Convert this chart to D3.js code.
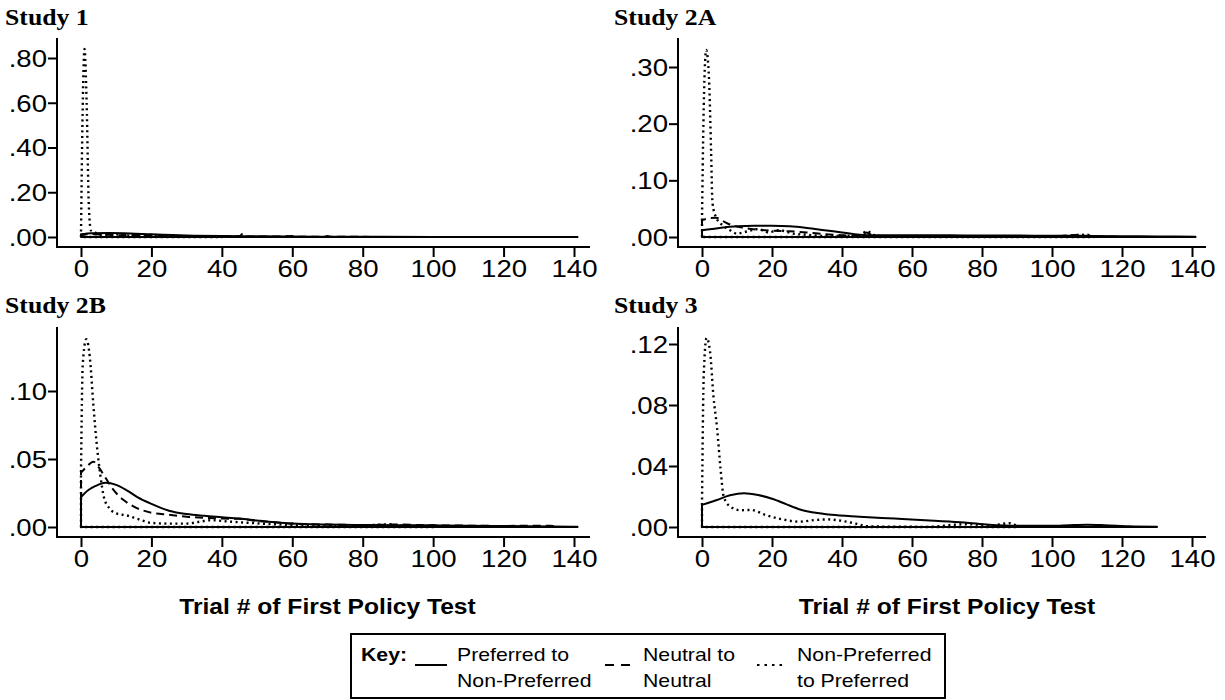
<!DOCTYPE html>
<html><head><meta charset="utf-8">
<script src="https://cdn.jsdelivr.net/npm/d3@7"></script>
<style>
html,body{margin:0;padding:0;background:#fff;}
svg{display:block;}
</style>
</head><body>
<svg id="chart" width="1225" height="700"></svg>
<script>
// ---------- DATA ----------
const panelTitles = ["Study 1", "Study 2A", "Study 2B", "Study 3"];
const xTicks = [0, 20, 40, 60, 80, 100, 120, 140];
const yTicks1 = [0, 0.2, 0.4, 0.6, 0.8];
const yTicks2A = [0, 0.1, 0.2, 0.3];
const yTicks2B = [0, 0.05, 0.10];
const yTicks3 = [0, 0.04, 0.08, 0.12];
const seriesNames = ["Preferred to Non-Preferred", "Neutral to Neutral", "Non-Preferred to Preferred"];
const xAxisTitle = "Trial # of First Policy Test";

// Study 1: [trial, density]
const study1Preferred = [[0,0.012],[3,0.017],[8,0.018],[14,0.016],[20,0.012],[26,0.009],[32,0.006],[40,0.004],[50,0.003],[60,0.002],[70,0.0015],[85,0.001],[100,0.0005],[120,0.0003],[141,0.0001]];
const study1Neutral = [[0,0.006],[2,0.012],[6,0.011],[10,0.008],[16,0.009],[20,0.007],[26,0.005],[32,0.004],[40,0.003],[45,0.003],[46,0.016],[47,0.003],[55,0.002],[61,0.004],[62,0.001],[69,0.001],[70,0.004],[71,0.001],[84,0.0005]];
const study1NonPref = [[0,0.01],[0.4,0.5],[1,0.84],[1.6,0.6],[2.2,0.15],[2.8,0.03],[4,0.02],[6,0.008],[10,0.012],[14,0.006],[18,0.01],[24,0.004],[30,0.002],[40,0.001]];

// Study 2A
const study2APreferred = [[0,0.012],[5,0.016],[10,0.019],[15,0.02],[20,0.02],[25,0.019],[30,0.016],[35,0.012],[40,0.008],[45,0.004],[50,0.003],[60,0.003],[70,0.003],[80,0.0025],[90,0.0025],[100,0.002],[110,0.002],[120,0.0015],[130,0.001],[141,0.0005]];
const study2ANeutral = [[0,0.03],[2,0.033],[4,0.034],[6,0.028],[8,0.022],[12,0.016],[16,0.013],[20,0.011],[25,0.01],[30,0.008],[35,0.005],[40,0.003],[45,0.002],[47,0.008],[49,0.002],[60,0.001],[80,0.001],[100,0.001],[108,0.004],[110,0.001],[120,0.0005]];
const study2ANonPref = [[0,0.03],[0.4,0.2],[1.2,0.33],[2,0.28],[2.6,0.15],[3,0.06],[4,0.035],[6,0.02],[8,0.012],[10,0.006],[13,0.01],[16,0.014],[19,0.008],[22,0.012],[26,0.006],[30,0.004],[35,0.002],[40,0.002],[45,0.003],[47,0.01],[50,0.002],[60,0.001],[80,0.001],[100,0.0005],[110,0.004],[112,0.0005]];

// Study 2B
const study2BPreferred = [[0,0.022],[2,0.027],[4,0.030],[7,0.0325],[10,0.031],[13,0.027],[16,0.022],[20,0.017],[25,0.012],[30,0.0095],[35,0.0082],[40,0.0072],[45,0.0062],[50,0.0048],[55,0.0035],[60,0.0025],[70,0.0018],[80,0.0015],[90,0.0013],[100,0.0012],[117,0.0008],[141,0.0002]];
const study2BNeutral = [[0,0.04],[1.5,0.044],[3.5,0.048],[5,0.044],[7,0.036],[9,0.028],[12,0.02],[15,0.015],[20,0.0105],[25,0.009],[30,0.0075],[35,0.0068],[40,0.0062],[45,0.006],[50,0.0045],[55,0.0035],[60,0.0025],[70,0.0018],[80,0.0015],[90,0.0018],[100,0.0012],[110,0.001],[120,0.0008],[133,0.001],[135,0.0003]];
const study2BNonPref = [[0,0.04],[0.5,0.12],[1.5,0.138],[2.5,0.125],[3.5,0.09],[4.5,0.06],[5.5,0.038],[6.5,0.022],[8,0.014],[10,0.01],[13,0.0085],[16,0.006],[20,0.003],[25,0.0025],[30,0.0025],[34,0.004],[37,0.005],[42,0.004],[48,0.003],[55,0.002],[60,0.0015],[70,0.001],[80,0.0012],[88,0.002],[90,0.001],[100,0.0005]];

// Study 3 (no neutral series)
const study3Preferred = [[0,0.0145],[4,0.0175],[8,0.0208],[12,0.0222],[16,0.021],[20,0.0185],[24,0.015],[28,0.0115],[32,0.0095],[37,0.008],[45,0.0068],[55,0.0055],[65,0.0042],[75,0.003],[82,0.0015],[90,0.0008],[100,0.0008],[105,0.0012],[110,0.0015],[115,0.0012],[122,0.0005],[130,0.0002]];
const study3NonPref = [[0,0.015],[0.5,0.1],[1.3,0.124],[2.3,0.115],[3.3,0.085],[4.3,0.065],[5.3,0.038],[6.2,0.02],[8,0.0135],[11,0.011],[14,0.0112],[18,0.008],[22,0.0055],[28,0.0035],[32,0.0045],[36,0.005],[40,0.004],[44,0.0022],[47,0.0005],[55,0.0002],[65,0.0001],[72,0.0015],[76,0.002],[82,0.001],[88,0.0025],[90,0.0005]];

// ---------- LAYOUT ----------
const SX = 1.2; // horizontal text stretch of the original
const SANS = "'Liberation Sans', Arial, sans-serif";
const SERIF = "'Liberation Serif', 'Times New Roman', serif";
const styles = [
  {dash: null, width: 2},
  {dash: "8,5", width: 2},
  {dash: "2,3.5", width: 2.4}
];

const panels = [
  {title: panelTitles[0], tx: 5, ty: 25, axX: 57, top: 38, base: 247, xr: [81, 574], xEnd: 590, yr: [237, 58], yd: [0, 0.8], ticks: yTicks1, series: [study1Preferred, study1Neutral, study1NonPref]},
  {title: panelTitles[1], tx: 614, ty: 25, axX: 678, top: 38, base: 247, xr: [702, 1192], xEnd: 1206, yr: [237, 67], yd: [0, 0.3], ticks: yTicks2A, series: [study2APreferred, study2ANeutral, study2ANonPref]},
  {title: panelTitles[2], tx: 5, ty: 313, axX: 57, top: 327, base: 537, xr: [81, 574], xEnd: 590, yr: [527, 391], yd: [0, 0.10], ticks: yTicks2B, series: [study2BPreferred, study2BNeutral, study2BNonPref], xTitle: true},
  {title: panelTitles[3], tx: 614, ty: 313, axX: 678, top: 327, base: 537, xr: [702, 1192], xEnd: 1206, yr: [527, 344], yd: [0, 0.12], ticks: yTicks3, series: [study3Preferred, null, study3NonPref], xTitle: true}
];

const svg = d3.select("#chart");
const fmt = v => d3.format(".2f")(v).replace(/^0/, "");

panels.forEach(p => {
  const x = d3.scaleLinear().domain([0, 140]).range(p.xr);
  const y = d3.scaleLinear().domain(p.yd).range(p.yr);
  const g = svg.append("g");

  // title
  g.append("text")
    .attr("transform", `translate(${p.tx},${p.ty}) scale(1.12,1)`)
    .attr("font-family", SERIF).attr("font-weight", "bold").attr("font-size", 23)
    .text(p.title);

  // axes lines
  g.append("line").attr("x1", p.axX).attr("x2", p.axX).attr("y1", p.top).attr("y2", p.base + 1)
    .attr("stroke", "#000").attr("stroke-width", 2);
  g.append("line").attr("x1", p.axX - 1).attr("x2", p.xEnd).attr("y1", p.base).attr("y2", p.base)
    .attr("stroke", "#000").attr("stroke-width", 2);

  // x axis
  const xa = g.append("g").attr("transform", `translate(0,${p.base})`)
    .call(d3.axisBottom(x).tickValues(xTicks).tickSize(10).tickSizeOuter(0).tickPadding(0));
  xa.select(".domain").remove();
  xa.selectAll(".tick line").attr("stroke", "#000").attr("stroke-width", 2);
  xa.selectAll(".tick text")
    .attr("y", 0).attr("dy", 0)
    .attr("transform", `translate(0,30) scale(${SX},1)`)
    .attr("font-family", SANS).attr("font-size", 23).attr("fill", "#000");

  // y axis
  const yAxisG = g.append("g").attr("transform", `translate(${p.axX},0)`)
    .call(d3.axisLeft(y).tickValues(p.ticks).tickFormat(fmt).tickSize(9).tickSizeOuter(0).tickPadding(0));
  yAxisG.select(".domain").remove();
  yAxisG.selectAll(".tick line").attr("stroke", "#000").attr("stroke-width", 2);
  yAxisG.selectAll(".tick text")
    .attr("x", 0).attr("dy", "0.36em")
    .attr("transform", `translate(-10,0) scale(${SX},1)`)
    .attr("font-family", SANS).attr("font-size", 23).attr("fill", "#000");

  // x axis title
  if (p.xTitle) {
    g.append("text")
      .attr("transform", `translate(${(p.xr[0] + p.xr[1]) / 2},614) scale(1.12,1)`)
      .attr("text-anchor", "middle")
      .attr("font-family", SANS).attr("font-weight", "bold").attr("font-size", 22)
      .text(xAxisTitle);
  }

  // density outlines
  const line = d3.line().x(d => x(d[0])).y(d => y(d[1])).curve(d3.curveMonotoneX);
  p.series.forEach((s, i) => {
    if (!s) return;
    const first = s[0], last = s[s.length - 1];
    const curve = line(s).replace(/^M/, "L");
    const d = `M${x(first[0])},${y(0)}` + curve + `L${x(last[0])},${y(0)}Z`;
    g.append("path").attr("d", d)
      .attr("fill", "none").attr("stroke", "#000")
      .attr("stroke-width", styles[i].width)
      .attr("stroke-dasharray", styles[i].dash)
      .attr("stroke-linejoin", "round");
  });
});

// ---------- LEGEND ----------
const lg = svg.append("g");
lg.append("rect").attr("x", 351).attr("y", 634).attr("width", 594).attr("height", 64)
  .attr("fill", "none").attr("stroke", "#000").attr("stroke-width", 2);
lg.append("text").attr("transform", `translate(361,661) scale(1.18,1)`)
  .attr("font-family", SANS).attr("font-weight", "bold").attr("font-size", 18).text("Key:");
const legendItems = [
  {x1: 415, x2: 447, tx: 457, lines: ["Preferred to", "Non-Preferred"]},
  {x1: 605, x2: 633, tx: 643, lines: ["Neutral to", "Neutral"]},
  {x1: 757, x2: 786, tx: 797, lines: ["Non-Preferred", "to Preferred"]}
];
const legendDash = [null, "9,7", "2.5,5"];
legendItems.forEach((it, i) => {
  lg.append("line").attr("x1", it.x1).attr("x2", it.x2).attr("y1", 665).attr("y2", 665)
    .attr("stroke", "#000").attr("stroke-width", 2).attr("stroke-dasharray", legendDash[i]);
  it.lines.forEach((t, j) => {
    lg.append("text").attr("transform", `translate(${it.tx},${661 + j * 26}) scale(1.18,1)`)
      .attr("font-family", SANS).attr("font-size", 18).text(t);
  });
});
</script>
</body></html>
